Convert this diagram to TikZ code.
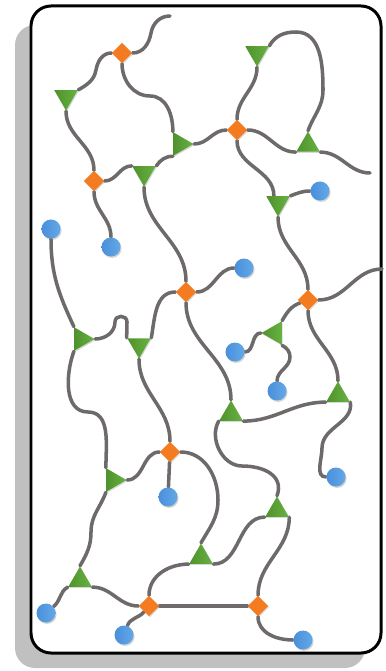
\documentclass[tikz,border=0pt]{standalone}
\usepackage{xcolor}
\usepackage{tikz}
\usetikzlibrary{shapes.geometric, shadows, backgrounds}
\definecolor{linkgray}{RGB}{110, 106, 106}
\definecolor{shadowgray}{RGB}{192, 192, 192}
\definecolor{huborange}{RGB}{244, 123, 32}
\definecolor{trigreen}{RGB}{104, 178, 66}
\definecolor{trigreendark}{RGB}{78, 146, 44}
\definecolor{leafblue}{RGB}{74, 144, 217}
\definecolor{leafbluelight}{RGB}{100, 168, 232}

\begin{document}
\begin{tikzpicture}[x=0.02cm, y=0.02cm,
    link/.style={draw=linkgray, line width=2pt, line cap=round},
    hub/.style={diamond, aspect=1, minimum size=0.41cm, inner sep=0pt, fill=huborange,
        drop shadow={opacity=0.3, shadow xshift=0.5pt, shadow yshift=-0.7pt}},
    tri/.style={regular polygon, regular polygon sides=3, minimum size=0.54cm, inner sep=0pt,
        left color=trigreendark, right color=trigreen,
        drop shadow={opacity=0.3, shadow xshift=0.5pt, shadow yshift=-0.7pt}},
    tridown/.style={tri, shape border rotate=180},
    triright/.style={tri, shape border rotate=-90},
    trileft/.style={tri, shape border rotate=90},
    leaf/.style={circle, minimum size=0.38cm, inner sep=0pt,
        left color=leafblue, right color=leafbluelight,
        drop shadow={opacity=0.35, shadow xshift=0.6pt, shadow yshift=-0.8pt}}]
    \useasboundingbox (0,0) rectangle (385,-671);

    % Frame
    \begin{scope}[on background layer]
        \fill[shadowgray, rounded corners=0.4cm] (15,-25) rectangle (365,-668);
        \draw[fill=white, line width=1.7pt, rounded corners=0.4cm] (31,-6) rectangle (381,-653);
    \end{scope}

    % Hubs
    \node[hub] (h1) at (122,-53) {};
    \node[hub] (h2) at (237,-130) {};
    \node[hub] (h3) at (94,-181) {};
    \node[hub] (h4) at (186,-292) {};
    \node[hub] (h5) at (308,-300) {};
    \node[hub] (h6) at (170,-452) {};
    \node[hub] (h7) at (149,-606) {};
    \node[hub] (h8) at (258,-606) {};

    % Triangles
    \node[tridown] (t1) at (66,-97) {};
    \node[triright] (t2) at (180,-144) {};
    \node[tridown] (t3) at (144,-173) {};
    \node[tridown] (t4) at (257,-53) {};
    \node[tri] (t5) at (308,-145) {};
    \node[tridown] (t6) at (278,-203) {};
    \node[triright] (t7) at (81,-339) {};
    \node[tridown] (t8) at (139,-345) {};
    \node[trileft] (t9) at (275,-333) {};
    \node[tri] (t10) at (231,-414) {};
    \node[tri] (t11) at (338,-395) {};
    \node[triright] (t12) at (113,-480) {};
    \node[tri] (t13) at (277,-510) {};
    \node[tri] (t14) at (201,-557) {};
    \node[tri] (t15) at (80,-580) {};

    % Leaves
    \node[leaf] (c1) at (320,-191) {};
    \node[leaf] (c2) at (51,-229) {};
    \node[leaf] (c3) at (111,-247) {};
    \node[leaf] (c4) at (244,-268) {};
    \node[leaf] (c5) at (235,-352) {};
    \node[leaf] (c6) at (277,-391) {};
    \node[leaf] (c7) at (336,-477) {};
    \node[leaf] (c8) at (168,-497) {};
    \node[leaf] (c9) at (46,-613) {};
    \node[leaf] (c10) at (124,-635) {};
    \node[leaf] (c11) at (303,-640) {};

    % Loose ends
    \coordinate (e1) at (170,-16);
    \coordinate (e2) at (382,-269);
    \coordinate (e3) at (370,-173);

    % Links
    \begin{scope}[on background layer]
    \draw[link] (h1) to[out=0,in=-100] (151,-33) to[out=80,in=180] (e1);
    \draw[link] (h1) to[out=180,in=80] (96,-70) to[out=-100,in=30] (t1.30);
    \draw[link] (h1) to[out=-90,in=180] (150,-96) to[out=0,in=90] (t2.120);
    \draw[link] (t1) to[out=-90,in=90] (h3);
    \draw[link] (h3) to[out=0,in=180] (t3.150);
    \draw[link] (t3.30) to[out=55,in=180] (t2.240);
    \draw[link] (t2) to[out=0,in=180] (h2);
    \draw[link] (h3) to[out=-90,in=90] (c3);
    \draw[link] (t3) to[out=-90,in=90] (h4);
    \draw[link] (h2) to[out=90,in=-90] (t4);
    \draw[link] (t4.30) to[out=60,in=180] (296,-32) to[out=0,in=90] (323,-90) to[out=-90,in=70] (t5.90);
    \draw[link] (h2) to[out=0,in=180] (t5.210);
    \draw[link] (t5.330) to[out=0,in=180] (e3);
    \draw[link] (h2) to[out=-90,in=90] (t6.120);
    \draw[link] (t6.30) to[out=20,in=180] (c1);
    \draw[link] (t6) to[out=-90,in=90] (h5);
    \draw[link] (h5) to[out=0,in=180] (e2);
    \draw[link] (h5) to[out=200,in=60] (t9.60);
    \draw[link] (t9.180) to[out=180,in=0] (c5);
    \draw[link] (t9.300) to[out=-30,in=90] (290,-357) to[out=-90,in=90] (c6);
    \draw[link] (h5) to[out=-90,in=90] (t11);
    \draw[link] (t10.330) to[out=0,in=180] (t11.210);
    \draw[link] (t11.330) to[out=-80,in=90] (322,-448) to[out=-90,in=180] (c7);
    \draw[link] (h4) to[out=0,in=180] (c4);
    \draw[link] (h4) to[out=180,in=80] (t8.30);
    \draw[link] (h4) to[out=-90,in=90] (t10);
    \draw[link] (c2) to[out=-90,in=115] (t7.120);
    \draw[link] (t7) to[out=0,in=-90] (115,-322) to[out=90,in=90,looseness=1.6] (127,-322) to[out=-90,in=90] (t8.150);
    \draw[link] (t7.240) to[out=-110,in=180] (88,-412) to[out=0,in=90] (t12.120);
    \draw[link] (t8) to[out=-90,in=90] (h6);
    \draw[link] (t12) to[out=0,in=180] (h6);
    \draw[link] (h6) -- (c8);
    \draw[link] (h6) to[out=0,in=90] (218,-500) to[out=-90,in=60] (t14.90);
    \draw[link] (t10.210) to[out=-120,in=180] (242,-466) to[out=0,in=70,looseness=1.2] (t13.90);
    \draw[link] (t12.240) to[out=-110,in=90] (91,-532) to[out=-90,in=60] (t15.90);
    \draw[link] (t15.210) to[out=-150,in=40] (c9);
    \draw[link] (t15.330) to[out=0,in=180] (h7);
    \draw[link] (h7) to[out=90,in=180] (t14.210);
    \draw[link] (t14.330) to[out=0,in=180] (t13.210);
    \draw[link] (t13.330) to[out=-90,in=90] (h8);
    \draw[link] (h7) -- (h8);
    \draw[link] (h7) to[out=-130,in=70] (c10);
    \draw[link] (h8) to[out=-90,in=180] (c11);
    \end{scope}

\end{tikzpicture}
\end{document}
